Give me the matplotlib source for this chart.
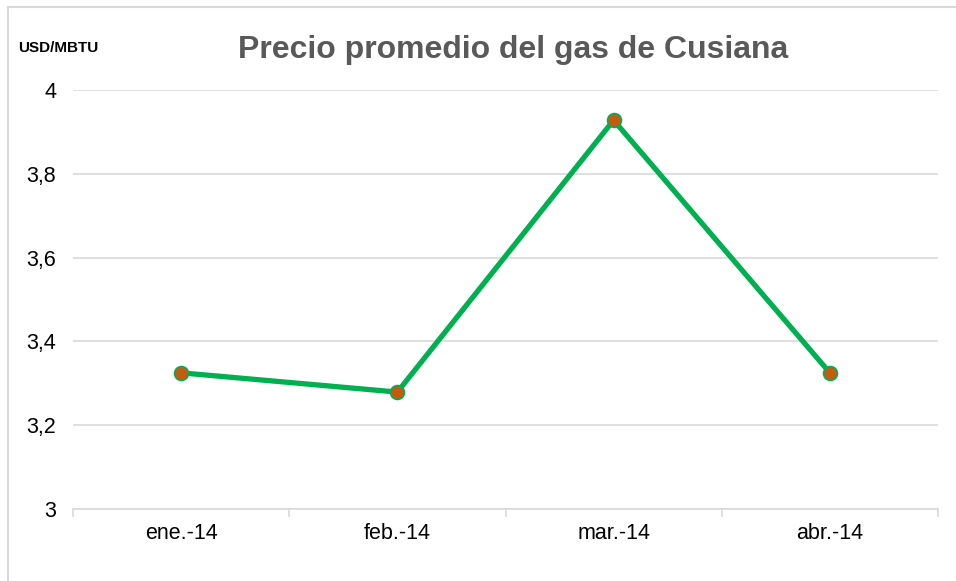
import matplotlib.pyplot as plt
from matplotlib.lines import Line2D

months = ['ene.-14', 'feb.-14', 'mar.-14', 'abr.-14']
precio = [3.325, 3.279, 3.928, 3.325]
y_ticks = [3, 3.2, 3.4, 3.6, 3.8, 4]
y_labels = ['3', '3,2', '3,4', '3,6', '3,8', '4']

plt.rcParams['font.family'] = ['Liberation Sans', 'DejaVu Sans']

W, H = 956, 581
fig = plt.figure(figsize=(W / 100, H / 100), dpi=100)
ax = fig.add_axes([73 / W, 1 - 509 / H, (938 - 73) / W, (509 - 90) / H])

x = list(range(len(months)))
ax.plot(x, precio, color='#00B050', lw=3.8, solid_capstyle='round',
        marker='o', markersize=10, markerfacecolor='#C55A11',
        markeredgecolor='#00B050', markeredgewidth=1.2, zorder=3)

ax.set_xlim(-0.5, len(months) - 0.5)
ax.set_ylim(3, 4)
ax.set_yticks(y_ticks)
ax.set_yticklabels(y_labels, fontsize=15.5)
ax.yaxis.grid(True, color='#d9d9d9', lw=1.2)
ax.set_axisbelow(True)
ax.tick_params(axis='y', length=0, pad=12)

# category labels centred, tick marks on the boundaries
ax.set_xticks(x)
ax.set_xticklabels(months, fontsize=15.5)
ax.tick_params(axis='x', which='major', length=0, pad=10)
ax.set_xticks([i - 0.5 for i in range(len(months) + 1)], minor=True)
ax.tick_params(axis='x', which='minor', length=6, color='#d9d9d9', width=1.2)

for s in ['top', 'right', 'left']:
    ax.spines[s].set_visible(False)
ax.spines['bottom'].set_color('#d9d9d9')
ax.spines['bottom'].set_linewidth(1.2)

fig.text(513 / W, 1 - 50 / H, 'Precio promedio del gas de Cusiana',
         ha='center', va='center', fontsize=23, fontweight='bold', color='#595959')
fig.text(18 / W, 1 - 48 / H, 'USD/MBTU', ha='left', va='center',
         fontsize=11, fontweight='bold', color='black')

# chart-area border (partially cropped)
fig.add_artist(Line2D([7.5 / W, 1], [1 - 7 / H, 1 - 7 / H], color='#d9d9d9', lw=1.5,
                      transform=fig.transFigure))
fig.add_artist(Line2D([7.5 / W, 7.5 / W], [0, 1 - 7 / H], color='#d9d9d9', lw=1.5,
                      transform=fig.transFigure))

fig.savefig('out.png', dpi=100)
